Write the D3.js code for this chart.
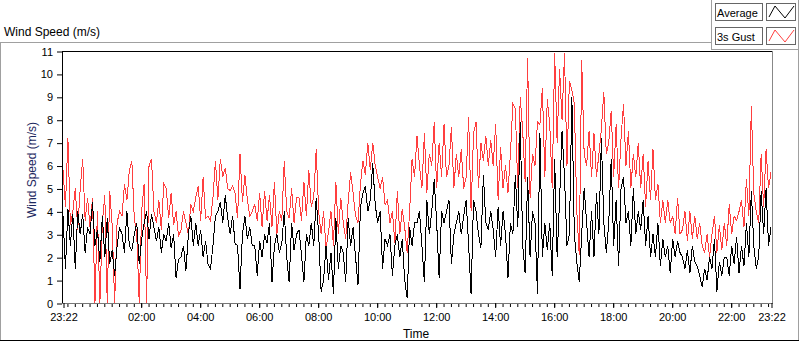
<!DOCTYPE html>
<html>
<head>
<meta charset="utf-8">
<script src="https://d3js.org/d3.v7.min.js"></script>
<style>
    body { margin: 0; background: #fff; }
    svg { display: block; font-family: "Liberation Sans", Arial, sans-serif; }
</style>
</head>
<body>
<script>
"use strict";

// time span of the record: one sample every 5 minutes
var startTime = new Date(2000, 0, 1, 23, 22),
    endTime = new Date(2000, 0, 2, 23, 22),
    firstLabel = new Date(2000, 0, 2, 2, 0),
    stepMinutes = 5;

// 3s gust (red)
var gust = [
    5.8, 4.2, 7.2, 3.4, 4.0, 5.0, 3.2, 5.0, 6.3, 3.6, 4.6, 3.3,
    4.6, 0, 4.0, 0, 3.5, 4.7, 0, 4.9, 3.4, 0, 3.5, 4.0,
    3.8, 5.2, 4.5, 5.8, 6.2, 3.7, 3.0, 0, 4.0, 5.2, 0, 6.0,
    6.3, 4.0, 3.5, 4.5, 3.2, 5.2, 5.0, 3.7, 4.8, 3.4, 4.0, 2.9,
    3.2, 4.0, 3.5, 3.0, 4.3, 4.0, 4.6, 5.1, 3.6, 5.5, 3.7, 3.8,
    3.6, 4.6, 6.2, 4.5, 6.3, 5.5, 5.9, 5.0, 4.9, 5.1, 4.8, 3.7,
    6.5, 4.4, 5.6, 4.5, 3.8, 4.0, 4.3, 3.6, 4.8, 3.3, 4.9, 3.6,
    4.7, 3.3, 5.3, 3.0, 4.0, 3.6, 6.2, 4.0, 3.7, 5.0, 3.5, 4.6,
    4.6, 3.6, 5.3, 3.8, 5.8, 4.2, 4.6, 6.7, 4.0, 3.0, 4.0, 2.4,
    3.1, 4.0, 2.5, 5.3, 3.0, 4.6, 3.5, 2.8, 4.4, 5.7, 4.8, 3.8,
    3.5, 5.2, 6.2, 5.6, 7.0, 5.8, 7.0, 6.0, 5.5, 5.0, 5.5, 4.3,
    4.5, 3.5, 4.0, 2.6, 4.9, 3.0, 4.1, 3.3, 2.2, 4.0, 6.3, 5.5,
    7.3, 6.0, 5.0, 7.4, 4.8, 6.5, 6.0, 7.9, 5.0, 7.0, 5.5, 7.8,
    5.5, 6.0, 7.7, 5.0, 6.5, 5.5, 6.7, 5.0, 5.5, 8.1, 4.0, 7.4,
    7.9, 5.0, 7.0, 6.2, 7.3, 6.0, 7.1, 6.0, 7.8, 4.5, 6.8, 5.0,
    6.0, 4.8, 6.5, 8.7, 8.5, 5.0, 9.0, 7.5, 5.3, 10.7, 4.6, 6.5,
    6.0, 7.9, 7.8, 9.4, 5.5, 8.9, 7.8, 5.0, 10.9, 7.0, 10.2, 8.0,
    10.9, 6.0, 9.7, 9.3, 8.7, 4.0, 2.1, 10.6, 6.5, 6.0, 7.5, 5.5,
    7.4, 5.5, 6.5, 7.6, 9.2, 6.5, 7.0, 8.4, 5.5, 7.8, 5.0, 7.2,
    8.7, 6.0, 7.5, 5.0, 6.5, 5.5, 7.0, 5.0, 6.5, 4.2, 6.2, 4.5,
    6.7, 4.5, 5.2, 3.5, 4.5, 3.5, 4.5, 3.5, 3.8, 3.0, 4.6, 3.0,
    3.2, 4.0, 2.7, 4.0, 2.8, 3.8, 2.8, 3.5, 2.5, 2.2, 3.0, 2.0,
    3.0, 3.8, 2.2, 3.4, 2.3, 3.5, 2.5, 4.3, 3.0, 3.8, 3.6, 4.0,
    4.5, 3.3, 5.4, 3.8, 8.6, 4.8, 4.0, 3.5, 6.5, 4.2, 6.7, 5.0,
    5.7
];

// 1 minute average (black)
var average = [
    3.8, 1.5, 4.1, 2.5, 3.9, 1.5, 4.0, 3.0, 3.9, 2.2, 3.3, 3.0,
    4.4, 2.5, 3.2, 1.8, 3.8, 2.0, 3.7, 1.7, 2.3, 1.2, 2.5, 3.3,
    3.0, 2.2, 4.0, 2.5, 2.3, 3.0, 3.5, 1.7, 2.8, 3.5, 4.0, 2.8,
    3.9, 3.3, 2.7, 3.3, 2.2, 3.0, 2.7, 3.5, 2.4, 3.0, 1.1, 1.9,
    2.0, 2.5, 1.4, 3.0, 3.8, 2.5, 3.5, 2.5, 3.2, 2.0, 2.7, 1.7,
    1.5, 2.5, 3.8, 4.0, 4.4, 3.5, 4.7, 3.7, 3.0, 3.8, 2.6, 2.5,
    0.6, 3.0, 3.8, 2.8, 3.3, 2.5, 2.5, 1.2, 2.7, 2.0, 3.0, 2.6,
    3.5, 0.9, 2.5, 3.0, 2.2, 2.6, 4.0, 2.0, 0.9, 3.5, 2.3, 3.0,
    3.2, 2.1, 0.9, 3.0, 2.5, 3.5, 2.5, 4.6, 3.0, 0.5, 1.0, 2.5,
    1.0, 2.2, 0.4, 3.7, 1.5, 2.5, 2.2, 0.9, 3.7, 2.5, 3.3, 2.0,
    0.8, 4.2, 4.8, 5.1, 4.0, 4.5, 6.1, 4.3, 3.5, 4.0, 1.5, 2.8,
    2.5, 3.0, 1.2, 2.5, 3.0, 2.0, 2.8, 1.0, 0.2, 3.3, 2.5, 3.5,
    3.5, 4.0, 2.5, 0.9, 4.5, 3.0, 4.0, 5.4, 3.5, 1.1, 4.0, 3.5,
    4.0, 4.5, 1.7, 3.0, 3.5, 4.0, 3.0, 3.8, 4.5, 2.5, 0.4, 4.5,
    4.0, 3.0, 2.4, 5.6, 3.5, 3.2, 4.0, 3.2, 2.0, 4.2, 2.5, 4.0,
    3.0, 1.1, 3.5, 3.0, 5.6, 3.3, 7.9, 2.5, 1.3, 5.5, 2.0, 4.0,
    3.5, 0.4, 7.4, 2.0, 3.5, 2.3, 3.5, 1.2, 6.3, 2.0, 4.5, 7.5,
    5.5, 2.5, 3.0, 9.0, 3.0, 1.8, 0.9, 3.0, 5.0, 3.5, 2.0, 4.0,
    2.0, 4.8, 3.0, 7.2, 3.5, 2.2, 3.5, 6.3, 2.5, 4.5, 1.6, 5.0,
    5.5, 3.5, 4.0, 2.5, 5.0, 3.0, 4.0, 3.2, 4.5, 2.5, 3.8, 2.0,
    3.0, 2.0, 3.5, 1.6, 2.8, 2.0, 2.5, 1.3, 2.8, 2.0, 2.7, 2.2,
    2.0, 1.5, 2.3, 1.3, 2.5, 1.8, 1.6, 1.2, 0.7, 1.5, 1.0, 2.0,
    1.5, 2.8, 0.5, 1.8, 1.2, 2.0, 2.0, 1.2, 2.5, 1.7, 2.9, 1.3,
    2.5, 1.6, 3.5, 2.0, 4.9, 2.5, 1.5, 2.0, 4.9, 3.0, 5.0, 2.5,
    3.3
];

var yTicks = [0, 1, 2, 3, 4, 5, 6, 7, 8, 9, 10, 11];
var legendNames = ["Average", "3s Gust"];
var legendColours = ["#000000", "#ff3f3f"];

var width = 800,
    height = 342,
    plot = { left: 62, top: 51, right: 772, bottom: 303 };

var svg = d3.select("body").append("svg")
    .attr("width", width)
    .attr("height", height);

// outer panel (sunken frame look)
svg.append("line").attr("x1", 0).attr("x2", 712).attr("y1", 42.5).attr("y2", 42.5).attr("stroke", "#a0a0a0");
svg.append("line").attr("x1", 0.5).attr("x2", 0.5).attr("y1", 42).attr("y2", 341).attr("stroke", "#a0a0a0");
svg.append("line").attr("x1", 798.5).attr("x2", 798.5).attr("y1", 0).attr("y2", 341).attr("stroke", "#a0a0a0");
svg.append("line").attr("x1", 0).attr("x2", 799).attr("y1", 340.5).attr("y2", 340.5).attr("stroke", "#000");

// chart title
svg.append("text")
    .attr("x", 4)
    .attr("y", 36)
    .style("font-size", "12px")
    .text("Wind Speed (m/s)");

// scales
var x = d3.scaleTime().domain([startTime, endTime]).range([plot.left + 1, plot.right - 1]);
var y = d3.scaleLinear().domain([0, 11]).range([plot.bottom, plot.top]);

function timeAt(i) {
    return new Date(startTime.getTime() + i * stepMinutes * 60000);
}

// plot area
svg.append("rect")
    .attr("x", plot.left).attr("y", plot.top)
    .attr("width", plot.right - plot.left).attr("height", plot.bottom - plot.top)
    .attr("fill", "#fff");

svg.append("clipPath").attr("id", "clip")
    .append("rect")
    .attr("x", plot.left + 1).attr("y", plot.top + 1)
    .attr("width", plot.right - plot.left - 1).attr("height", plot.bottom - plot.top - 1);

var line = d3.line()
    .x(function (d, i) { return x(timeAt(i)); })
    .y(function (d) { return y(d); });

var lines = svg.append("g").attr("clip-path", "url(#clip)");

lines.append("path")
    .datum(gust)
    .attr("d", line)
    .attr("fill", "none")
    .attr("stroke", legendColours[1])
    .attr("stroke-width", 1)
    .attr("shape-rendering", "crispEdges");

lines.append("path")
    .datum(average)
    .attr("d", line)
    .attr("fill", "none")
    .attr("stroke", legendColours[0])
    .attr("stroke-width", 1)
    .attr("shape-rendering", "crispEdges");

// plot border: dark top/left, grey bottom/right
svg.append("line").attr("x1", plot.left).attr("x2", plot.right).attr("y1", plot.top + 0.5).attr("y2", plot.top + 0.5).attr("stroke", "#000");
svg.append("line").attr("x1", plot.left + 0.5).attr("x2", plot.left + 0.5).attr("y1", plot.top).attr("y2", plot.bottom + 1).attr("stroke", "#000");
svg.append("line").attr("x1", plot.right + 0.5).attr("x2", plot.right + 0.5).attr("y1", plot.top).attr("y2", plot.bottom + 1).attr("stroke", "#888");
svg.append("line").attr("x1", plot.left).attr("x2", plot.right + 1).attr("y1", plot.bottom + 0.5).attr("y2", plot.bottom + 0.5).attr("stroke", "#777");

// y axis
var yAxis = svg.append("g")
    .attr("transform", "translate(" + plot.left + ",0.5)")
    .call(d3.axisLeft(y).tickValues(yTicks).tickSize(5).tickPadding(4));
yAxis.select(".domain").remove();
yAxis.selectAll("text").style("font-size", "11px").style("font-family", null).attr("fill", "#000");
yAxis.selectAll("line").attr("stroke", "#000");

// x axis: minor ticks every 15 min, major every 2 h (from 02:00) plus both ends
var minorTicks = d3.timeMinute.every(15).range(startTime, endTime);
var majorTicks = [startTime].concat(d3.timeHour.every(2).range(firstLabel, endTime)).concat([endTime]);

var xMinor = svg.append("g")
    .attr("transform", "translate(0.5," + (plot.bottom + 1) + ")")
    .call(d3.axisBottom(x).tickValues(minorTicks).tickSize(3).tickFormat(""));
xMinor.select(".domain").remove();

var xAxis = svg.append("g")
    .attr("transform", "translate(0.5," + plot.bottom + ")")
    .call(d3.axisBottom(x).tickValues(majorTicks).tickSize(5).tickPadding(5).tickFormat(d3.timeFormat("%H:%M")));
xAxis.select(".domain").remove();
xAxis.selectAll("text").style("font-size", "11px").style("font-family", null).attr("fill", "#000");

// axis titles
svg.append("text")
    .attr("x", (plot.left + plot.right) / 2 - 1)
    .attr("y", 338)
    .attr("text-anchor", "middle")
    .style("font-size", "12px")
    .text("Time");

svg.append("text")
    .attr("transform", "translate(36," + ((plot.top + plot.bottom) / 2 - 7) + ") rotate(-90)")
    .attr("text-anchor", "middle")
    .style("font-size", "12px")
    .attr("fill", "#1c2860")
    .text("Wind Speed (m/s)");

// legend panel in the top right corner
var legend = svg.append("g");
legend.append("rect")
    .attr("x", 711.5).attr("y", -1)
    .attr("width", 87).attr("height", 50.5)
    .attr("fill", "#fff").attr("stroke", "#a0a0a0");

var items = legend.selectAll("g.item")
    .data(legendNames)
    .enter().append("g")
    .attr("class", "item")
    .attr("transform", function (d, i) { return "translate(0," + (i * 24) + ")"; });

items.append("rect")
    .attr("x", 715.5).attr("y", 3.5)
    .attr("width", 47).attr("height", 17)
    .attr("fill", "#fff").attr("stroke", "#666");

items.append("text")
    .attr("x", 717)
    .attr("y", 16.5)
    .style("font-size", "11px")
    .text(function (d) { return d; });

items.append("rect")
    .attr("x", 766.5).attr("y", 3.5)
    .attr("width", 29).attr("height", 17)
    .attr("fill", "#fff").attr("stroke", "#666");

items.append("polyline")
    .attr("points", "769,17 775,6 785,18 794,6")
    .attr("fill", "none")
    .attr("stroke", function (d, i) { return legendColours[i]; });
</script>
</body>
</html>
